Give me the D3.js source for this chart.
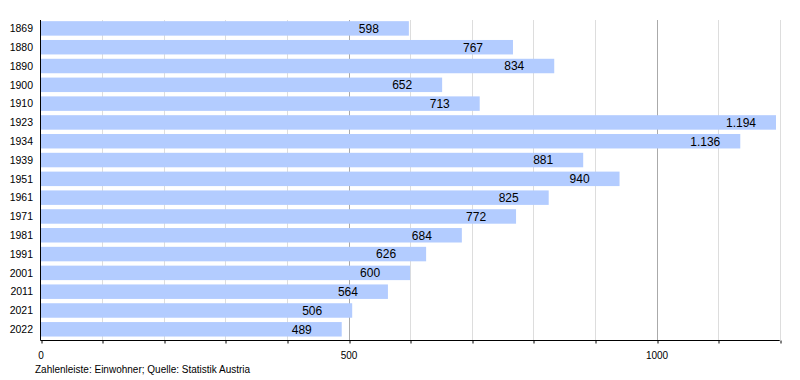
<!DOCTYPE html>
<html><head><meta charset="utf-8">
<script src="https://cdnjs.cloudflare.com/ajax/libs/d3/7.8.5/d3.min.js"></script>
<style>body{margin:0;background:#fff;} text{font-family:"Liberation Sans",Arial,sans-serif;}</style>
</head><body>
<script>
const years = ["1869","1880","1890","1900","1910","1923","1934","1939","1951","1961","1971","1981","1991","2001","2011","2021","2022"];
const population = [598,767,834,652,713,1194,1136,881,940,825,772,684,626,600,564,506,489];
const valueLabels = ["598","767","834","652","713","1.194","1.136","881","940","825","772","684","626","600","564","506","489"];
const tickValues = [0,100,200,300,400,500,600,700,800,900,1000,1100,1200];
const tickLabels = {0:"0",500:"500",1000:"1000"};
const caption = "Zahlenleiste: Einwohner; Quelle: Statistik Austria";

const W = 800, H = 380;
const svg = d3.select("body").append("svg").attr("width", W).attr("height", H);
const x = d3.scaleLinear().domain([0,1200]).range([40.5,779.7]);
const y = d3.scaleBand().domain(years).range([19,338.7]).paddingInner(0.23).paddingOuter(0.115);
const plotTop = 20, plotBottom = 340;

// grid
svg.append("g").selectAll("line").data(tickValues.filter(d => d > 0)).join("line")
  .attr("x1", d => Math.round(x(d)) + 0.5).attr("x2", d => Math.round(x(d)) + 0.5)
  .attr("y1", plotTop).attr("y2", plotBottom)
  .attr("stroke", d => d % 500 === 0 ? "#aaaaaa" : "#dddddd").attr("stroke-width", 1);

// bars
svg.append("g").selectAll("rect").data(years).join("rect")
  .attr("x", x(0)).attr("y", d => y(d))
  .attr("width", (d,i) => x(population[i]) - x(0))
  .attr("height", y.bandwidth())
  .attr("fill", "#b3ccff");

// value labels
svg.append("g").selectAll("text").data(years).join("text")
  .attr("x", (d,i) => x(population[i]) - 50)
  .attr("y", d => y(d) + y.bandwidth()/2)
  .attr("dy", "0.36em")
  .attr("font-size", 12).attr("fill", "#000")
  .text((d,i) => valueLabels[i]);

// y labels
svg.append("g").selectAll("text").data(years).join("text")
  .attr("x", 33).attr("y", d => y(d) + y.bandwidth()/2)
  .attr("dy", "0.36em").attr("text-anchor", "end")
  .attr("font-size", 10.5).attr("fill", "#000")
  .text(d => d);

// axes
svg.append("line").attr("x1", 40.5).attr("x2", 40.5).attr("y1", plotTop).attr("y2", plotBottom + 0.5)
  .attr("stroke", "#000");
const xAxis = d3.axisBottom(x).tickValues(tickValues).tickSize(3).tickSizeOuter(0)
  .tickFormat(d => tickLabels[d] || "");
const gx = svg.append("g").attr("transform", `translate(0,${plotBottom + 0.5})`).call(xAxis);
gx.select(".domain").attr("stroke", "#000").attr("d", `M40.5,0H${x(1200)}`);
gx.selectAll(".tick line").attr("stroke", "#000").attr("transform", d => `translate(${Math.round(x(d)) + 0.5 - x(d)},0)`);
gx.selectAll(".tick text").attr("font-family", '"Liberation Sans",Arial,sans-serif').attr("font-size", 10).attr("fill", "#000").attr("dy", "0.71em").attr("y", 11);

svg.append("text").attr("x", 35).attr("y", 373).attr("font-size", 10).attr("fill", "#000").text(caption);
</script>
</body></html>
